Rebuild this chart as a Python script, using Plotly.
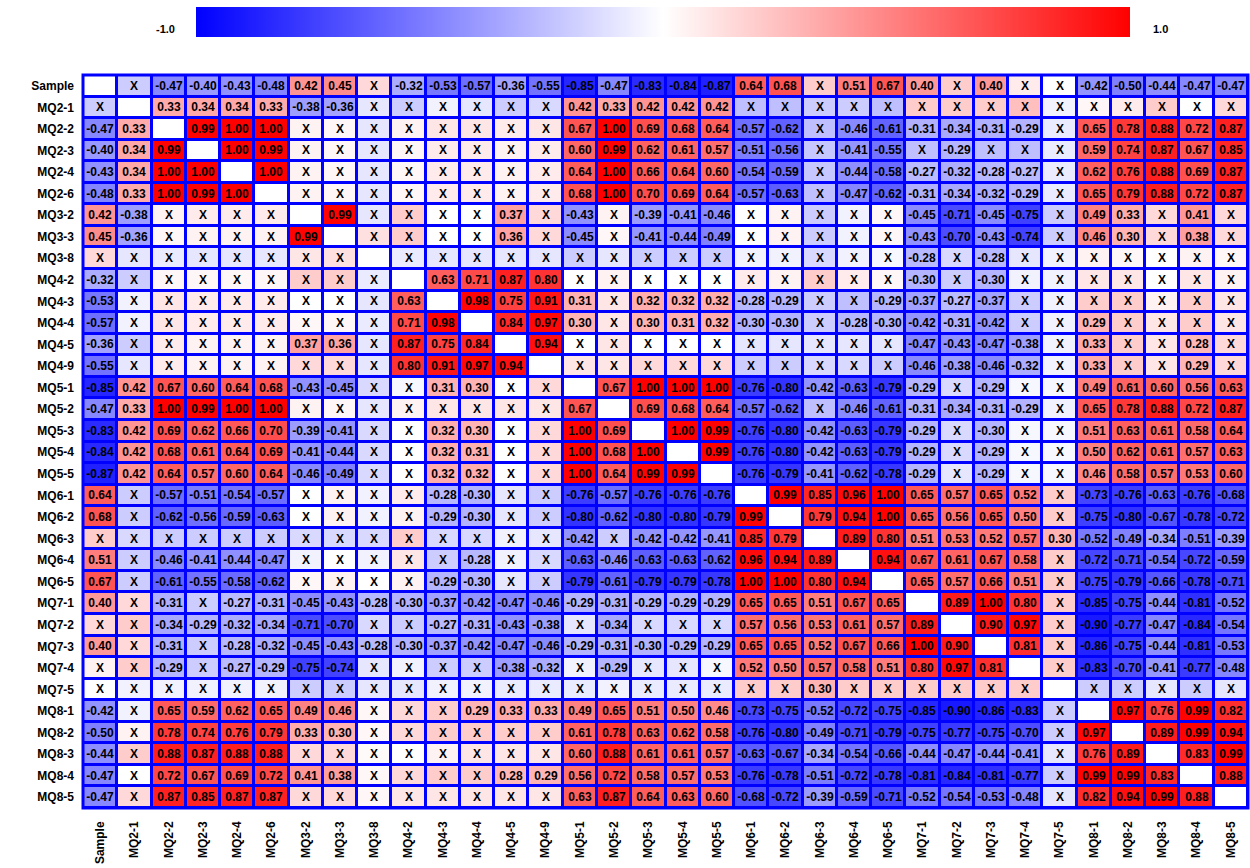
import plotly.graph_objects as go

labels = ["Sample", "MQ2-1", "MQ2-2", "MQ2-3", "MQ2-4", "MQ2-6", "MQ3-2", "MQ3-3",
          "MQ3-8", "MQ4-2", "MQ4-3", "MQ4-4", "MQ4-5", "MQ4-9", "MQ5-1", "MQ5-2",
          "MQ5-3", "MQ5-4", "MQ5-5", "MQ6-1", "MQ6-2", "MQ6-3", "MQ6-4", "MQ6-5",
          "MQ7-1", "MQ7-2", "MQ7-3", "MQ7-4", "MQ7-5", "MQ8-1", "MQ8-2", "MQ8-3",
          "MQ8-4", "MQ8-5"]


def X(v):
    """Correlation that is not significant: coloured by value, labelled 'X'."""
    return ("X", v)


D = None  # diagonal

corr_rows = [
    [D, X(-.2), -.47, -.40, -.43, -.48, .42, .45, X(.15), -.32, -.53, -.57, -.36, -.55, -.85, -.47, -.83, -.84, -.87, .64, .68, X(.2), .51, .67, .40, X(.2), .40, X(.08), X(0), -.42, -.50, -.44, -.47, -.47],
    [X(-.2), D, .33, .34, .34, .33, -.38, -.36, X(-.1), X(-.2), X(-.05), X(-.1), X(-.2), X(-.15), .42, .33, .42, .42, .42, X(-.25), X(-.25), X(-.2), X(-.2), X(-.25), X(.2), X(.2), X(.2), X(.25), X(-.05), X(.03), X(.08), X(.2), X(0), X(.15)],
    [-.47, .33, D, .99, 1.00, 1.00, X(.05), X(.03), X(-.1), X(.05), X(.1), X(.1), X(.08), X(.1), .67, 1.00, .69, .68, .64, -.57, -.62, X(-.25), -.46, -.61, -.31, -.34, -.31, -.29, X(-.08), .65, .78, .88, .72, .87],
    [-.40, .34, .99, D, 1.00, .99, X(.05), X(.03), X(-.1), X(.03), X(.08), X(.08), X(.05), X(.08), .60, .99, .62, .61, .57, -.51, -.56, X(-.22), -.41, -.55, X(-.25), -.29, X(-.25), X(-.25), X(-.08), .59, .74, .87, .67, .85],
    [-.43, .34, 1.00, 1.00, D, 1.00, X(.05), X(.03), X(-.1), X(.03), X(.08), X(.08), X(.05), X(.08), .64, 1.00, .66, .64, .60, -.54, -.59, X(-.22), -.44, -.58, -.27, -.32, -.28, -.27, X(-.08), .62, .76, .88, .69, .87],
    [-.48, .33, 1.00, .99, 1.00, D, X(.05), X(.03), X(-.1), X(.03), X(.08), X(.08), X(.05), X(.08), .68, 1.00, .70, .69, .64, -.57, -.63, X(-.25), -.47, -.62, -.31, -.34, -.32, -.29, X(-.08), .65, .79, .88, .72, .87],
    [.42, -.38, X(.05), X(.08), X(.08), X(.08), D, .99, X(-.1), X(.2), X(0), X(0), .37, X(.15), -.43, X(.05), -.39, -.41, -.46, X(0), X(.05), X(-.2), X(-.05), X(.03), -.45, -.71, -.45, -.75, X(-.2), .49, .33, X(.15), .41, X(.15)],
    [.45, -.36, X(.03), X(.05), X(.05), X(.05), .99, D, X(.12), X(.2), X(0), X(0), .36, X(.15), -.45, X(.03), -.41, -.44, -.49, X(0), X(.05), X(-.2), X(-.05), X(.03), -.43, -.70, -.43, -.74, X(-.2), .46, .30, X(.15), .38, X(.15)],
    [X(.15), X(-.1), X(-.08), X(-.1), X(-.1), X(-.1), X(.1), X(.12), D, X(-.08), X(-.1), X(-.1), X(-.1), X(-.1), X(-.2), X(-.1), X(-.2), X(-.2), X(-.2), X(-.05), X(-.05), X(-.15), X(-.05), X(-.03), -.28, X(-.15), -.28, X(-.1), X(-.05), X(.05), X(.03), X(0), X(.05), X(.03)],
    [-.32, X(-.2), X(.03), X(.03), X(.03), X(.03), X(.2), X(.2), X(-.08), D, .63, .71, .87, .80, X(0), X(.05), X(0), X(0), X(0), X(.08), X(.05), X(.2), X(.08), X(.03), -.30, X(-.2), -.30, X(-.05), X(-.05), X(.1), X(.1), X(0), X(.1), X(.05)],
    [-.53, X(-.05), X(.1), X(.08), X(.08), X(.08), X(0), X(0), X(-.1), .63, D, .98, .75, .91, .31, X(.1), .32, .32, .32, -.28, -.29, X(-.2), X(-.25), -.29, -.37, -.27, -.37, X(-.2), X(-.05), X(.2), X(.2), X(.05), X(.2), X(.1)],
    [-.57, X(-.05), X(.1), X(.08), X(.08), X(.08), X(.03), X(.03), X(-.08), .71, .98, D, .84, .97, .30, X(.1), .30, .31, .32, -.30, -.30, X(-.2), -.28, -.30, -.42, -.31, -.42, X(-.2), X(-.05), .29, X(.2), X(.1), X(.2), X(.1)],
    [-.36, X(-.2), X(.08), X(.05), X(.05), X(.05), .37, .36, X(-.1), .87, .75, .84, D, .94, X(0), X(.1), X(0), X(0), X(0), X(-.1), X(-.1), X(-.1), X(-.1), X(-.1), -.47, -.43, -.47, -.38, X(-.05), .33, X(.2), X(.1), .28, X(.15)],
    [-.55, X(-.1), X(.08), X(.05), X(.05), X(.05), X(.15), X(.15), X(-.1), .80, .91, .97, .94, D, X(.1), X(.1), X(.15), X(.15), X(.15), X(-.2), X(-.2), X(-.15), X(-.15), X(-.2), -.46, -.38, -.46, -.32, X(-.05), .33, X(.2), X(.1), .29, X(.15)],
    [-.85, .42, .67, .60, .64, .68, -.43, -.45, X(-.15), X(-.03), .31, .30, X(0), X(.15), D, .67, 1.00, 1.00, 1.00, -.76, -.80, -.42, -.63, -.79, -.29, X(-.15), -.29, X(-.03), X(-.03), .49, .61, .60, .56, .63],
    [-.47, .33, 1.00, .99, 1.00, 1.00, X(.05), X(.03), X(-.1), X(.05), X(.1), X(.1), X(.1), X(.1), .67, D, .69, .68, .64, -.57, -.62, X(-.25), -.46, -.61, -.31, -.34, -.31, -.29, X(-.05), .65, .78, .88, .72, .87],
    [-.83, .42, .69, .62, .66, .70, -.39, -.41, X(-.15), X(0), .32, .30, X(0), X(.15), 1.00, .69, D, 1.00, .99, -.76, -.80, -.42, -.63, -.79, -.29, X(-.15), -.30, X(-.03), X(-.03), .51, .63, .61, .58, .64],
    [-.84, .42, .68, .61, .64, .69, -.41, -.44, X(-.15), X(0), .32, .31, X(0), X(.15), 1.00, .68, 1.00, D, .99, -.76, -.80, -.42, -.63, -.79, -.29, X(-.15), -.29, X(-.03), X(-.03), .50, .62, .61, .57, .63],
    [-.87, .42, .64, .57, .60, .64, -.46, -.49, X(-.15), X(0), .32, .32, X(0), X(.15), 1.00, .64, .99, .99, D, -.76, -.79, -.41, -.62, -.78, -.29, X(-.1), -.29, X(-.03), X(-.03), .46, .58, .57, .53, .60],
    [.64, X(-.2), -.57, -.51, -.54, -.57, X(0), X(.05), X(-.05), X(.08), -.28, -.30, X(-.1), X(-.2), -.76, -.57, -.76, -.76, -.76, D, .99, .85, .96, 1.00, .65, .57, .65, .52, X(.2), -.73, -.76, -.63, -.76, -.68],
    [.68, X(-.2), -.62, -.56, -.59, -.63, X(0), X(.05), X(-.05), X(.05), -.29, -.30, X(-.1), X(-.2), -.80, -.62, -.80, -.80, -.79, .99, D, .79, .94, 1.00, .65, .56, .65, .50, X(.2), -.75, -.80, -.67, -.78, -.72],
    [X(.2), X(-.15), X(-.2), X(-.2), X(-.2), X(-.2), X(-.15), X(-.15), X(-.15), X(.2), X(-.15), X(-.15), X(-.05), X(-.1), -.42, X(-.2), -.42, -.42, -.41, .85, .79, D, .89, .80, .51, .53, .52, .57, .30, -.52, -.49, -.34, -.51, -.39],
    [.51, X(-.2), -.46, -.41, -.44, -.47, X(-.05), X(0), X(-.05), X(.1), X(-.2), -.28, X(-.05), X(-.15), -.63, -.46, -.63, -.63, -.62, .96, .94, .89, D, .94, .67, .61, .67, .58, X(.2), -.72, -.71, -.54, -.72, -.59],
    [.67, X(-.2), -.61, -.55, -.58, -.62, X(.03), X(.05), X(0), X(.05), -.29, -.30, X(-.1), X(-.2), -.79, -.61, -.79, -.79, -.78, 1.00, 1.00, .80, .94, D, .65, .57, .66, .51, X(.2), -.75, -.79, -.66, -.78, -.71],
    [.40, X(.15), -.31, X(-.2), -.27, -.31, -.45, -.43, -.28, -.30, -.37, -.42, -.47, -.46, -.29, -.31, -.29, -.29, -.29, .65, .65, .51, .67, .65, D, .89, 1.00, .80, X(.2), -.85, -.75, -.44, -.81, -.52],
    [X(.15), X(.2), -.34, -.29, -.32, -.34, -.71, -.70, X(-.15), X(-.2), -.27, -.31, -.43, -.38, X(-.1), -.34, X(-.15), X(-.15), X(-.15), .57, .56, .53, .61, .57, .89, D, .90, .97, X(.2), -.90, -.77, -.47, -.84, -.54],
    [.40, X(.15), -.31, X(-.2), -.28, -.32, -.45, -.43, -.28, -.30, -.37, -.42, -.47, -.46, -.29, -.31, -.30, -.29, -.29, .65, .65, .52, .67, .66, 1.00, .90, D, .81, X(.2), -.86, -.75, -.44, -.81, -.53],
    [X(.05), X(.2), -.29, X(-.2), -.27, -.29, -.75, -.74, X(-.1), X(-.05), X(-.2), X(-.2), -.38, -.32, X(-.05), -.29, X(-.1), X(-.1), X(-.03), .52, .50, .57, .58, .51, .80, .97, .81, D, X(.2), -.83, -.70, -.41, -.77, -.48],
    [X(0), X(-.05), X(-.05), X(-.05), X(-.05), X(-.05), X(-.2), X(-.2), X(-.1), X(-.1), X(-.05), X(-.05), X(-.08), X(-.08), X(-.08), X(-.05), X(-.08), X(-.08), X(-.08), X(.2), X(.2), .30, X(.2), X(.2), X(.2), X(.2), X(.2), X(.2), D, X(-.2), X(-.2), X(-.1), X(-.2), X(-.1)],
    [-.42, X(-.05), .65, .59, .62, .65, .49, .46, X(.03), X(.15), X(.2), .29, .33, .33, .49, .65, .51, .50, .46, -.73, -.75, -.52, -.72, -.75, -.85, -.90, -.86, -.83, X(-.2), D, .97, .76, .99, .82],
    [-.50, X(.05), .78, .74, .76, .79, .33, .30, X(.03), X(.15), X(.2), X(.2), X(.2), X(.2), .61, .78, .63, .62, .58, -.76, -.80, -.49, -.71, -.79, -.75, -.77, -.75, -.70, X(-.2), .97, D, .89, .99, .94],
    [-.44, X(.2), .88, .87, .88, .88, X(.15), X(.15), X(.02), X(0), X(.05), X(.1), X(.1), X(.1), .60, .88, .61, .61, .57, -.63, -.67, -.34, -.54, -.66, -.44, -.47, -.44, -.41, X(-.1), .76, .89, D, .83, .99],
    [-.47, X(0), .72, .67, .69, .72, .41, .38, X(.03), X(.15), X(.2), X(.2), .28, .29, .56, .72, .58, .57, .53, -.76, -.78, -.51, -.72, -.78, -.81, -.84, -.81, -.77, X(-.2), .99, .99, .83, D, .88],
    [-.47, X(.15), .87, .85, .87, .87, X(.15), X(.15), X(.03), X(.1), X(.1), X(.1), X(.1), X(.1), .63, .87, .64, .63, .60, -.68, -.72, -.39, -.59, -.71, -.52, -.54, -.53, -.48, X(-.1), .82, .94, .99, .88, D],
]

# Build colour values and cell labels from the matrix
z, text = [], []
for row in corr_rows:
    zr, tr = [], []
    for cell in row:
        if cell is None:
            zr.append(0.0)
            tr.append("")
        elif isinstance(cell, tuple):
            zr.append(cell[1])
            tr.append("X")
        else:
            zr.append(cell)
            tr.append(f"{cell:.2f}")
    z.append(zr)
    text.append(tr)

BLUE = "#0000FF"
FONT = "Liberation Sans, Arial, sans-serif"

W, H = 1250, 868
ml, mr, mt, mb = 83, 2, 75, 60
pw = W - ml - mr
ph = H - mt - mb

fig = go.Figure(go.Heatmap(
    z=z, x=labels, y=labels, text=text,
    texttemplate="<b>%{text}</b>",
    textfont=dict(family=FONT, size=12, color="black"),
    colorscale=[[0, "#0000FF"], [0.5, "#FFFFFF"], [1, "#FF0000"]],
    zmin=-1, zmax=1, xgap=3, ygap=3,
    hoverinfo="skip",
    colorbar=dict(
        orientation="h", xanchor="left", yanchor="top",
        x=(196 - ml) / pw, y=1 + (mt - 7) / ph,
        len=(1130 - 196) / pw, lenmode="fraction",
        thickness=30, xpad=0, ypad=0,
        outlinewidth=0, showticklabels=False, ticks="",
    ),
))

fig.update_layout(
    width=W, height=H,
    margin=dict(l=ml, r=mr, t=mt, b=mb, autoexpand=False),
    plot_bgcolor=BLUE, paper_bgcolor="white",
    font=dict(family=FONT, color="black"),
    xaxis=dict(side="bottom", tickangle=-90, showgrid=False, zeroline=False,
               tickfont=dict(size=12, family=FONT, weight="bold"),
               ticks="", ticklabelstandoff=10, automargin=False),
    yaxis=dict(autorange="reversed", showgrid=False, zeroline=False,
               tickfont=dict(size=12, family=FONT, weight="bold"), ticks="",
               ticklabelstandoff=8, automargin=False),
    shapes=[dict(type="rect", xref="paper", yref="paper", x0=0, x1=1, y0=0, y1=1,
                 line=dict(color=BLUE, width=3))],
    annotations=[
        dict(text="<b>-1.0</b>", xref="paper", yref="paper", xanchor="center",
             x=(165 - ml) / pw, y=1 + (mt - 21) / ph, showarrow=False,
             font=dict(size=11)),
        dict(text="<b>1.0</b>", xref="paper", yref="paper", xanchor="center",
             x=(1160 - ml) / pw, y=1 + (mt - 21) / ph, showarrow=False,
             font=dict(size=11)),
    ],
)

fig.write_html("out.html")
